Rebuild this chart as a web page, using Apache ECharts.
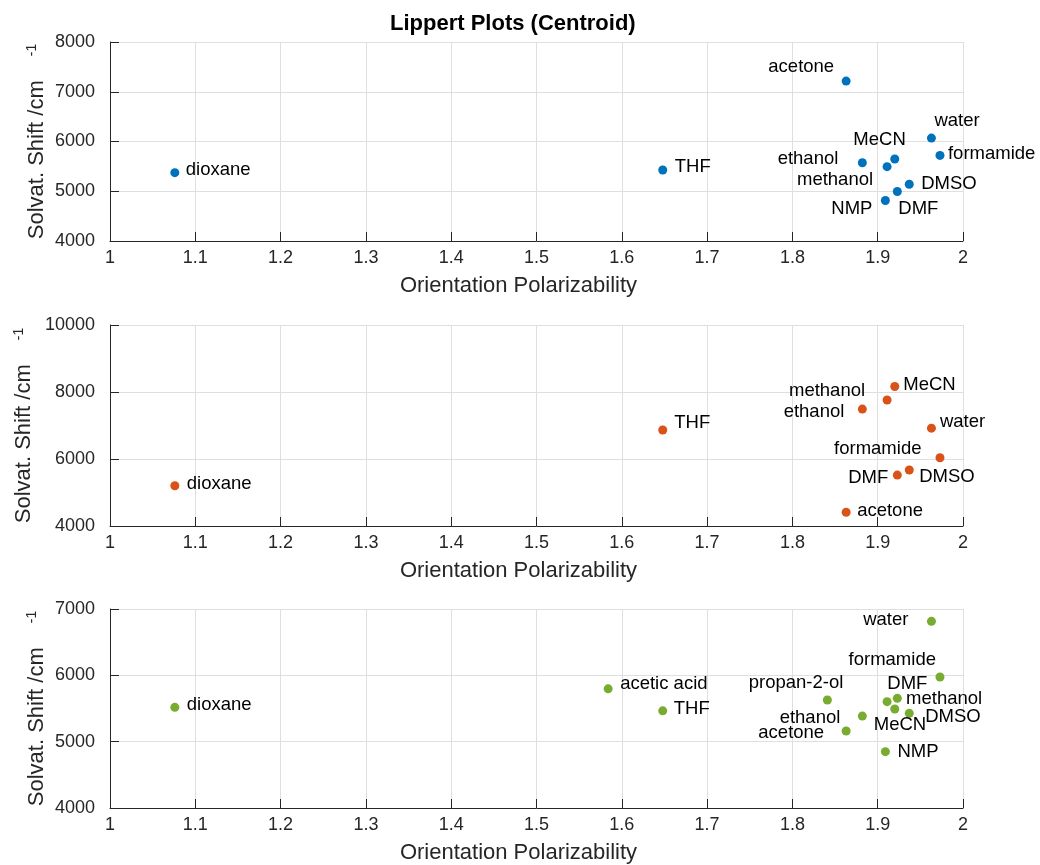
<!DOCTYPE html>
<html>
<head>
<meta charset="utf-8">
<script src="https://cdn.jsdelivr.net/npm/echarts@6/dist/echarts.min.js"></script>
<style>
html,body{margin:0;padding:0;background:#fff;}
#chart{width:1040px;height:865px;}
</style>
</head>
<body>
<div id="chart"></div>
<script>
// ---- Data ----
const topNames = ['dioxane','THF','acetone','ethanol','NMP','methanol','MeCN','DMF','DMSO','water','formamide'];
const topX     = [1.076, 1.648, 1.863, 1.882, 1.909, 1.911, 1.920, 1.923, 1.937, 1.963, 1.973];
const topY     = [5374, 5428, 7214, 5574, 4814, 5494, 5648, 4994, 5140, 6068, 5720];

const midNames = ['dioxane','THF','acetone','ethanol','methanol','MeCN','DMF','DMSO','water','formamide'];
const midX     = [1.076, 1.648, 1.863, 1.882, 1.911, 1.920, 1.923, 1.937, 1.963, 1.973];
const midY     = [5203, 6866, 4410, 7490, 7760, 8165, 5520, 5670, 6921, 6039];

const botNames = ['dioxane','acetic acid','THF','propan-2-ol','acetone','ethanol','NMP','methanol','MeCN','DMF','DMSO','water','formamide'];
const botX     = [1.076, 1.584, 1.648, 1.841, 1.863, 1.882, 1.909, 1.911, 1.920, 1.923, 1.937, 1.963, 1.973];
const botY     = [5517, 5796, 5465, 5628, 5160, 5386, 4849, 5603, 5492, 5653, 5427, 6814, 5975];

const xTickMin = 1, xTickMax = 2, xTickStep = 0.1;
const yTicksTop = [4000, 8000, 1000];
const yTicksMid = [4000, 10000, 2000];
const yTicksBot = [4000, 7000, 1000];

// ---- Label placement (layout only): [align, dx, dy] relative to marker centre ----
const labelTop = {
  'dioxane':['left',11,-2.5], 'THF':['left',12,-3], 'acetone':['right',-12,-14.5],
  'ethanol':['right',-24,-3.5], 'NMP':['right',-13,8.5], 'methanol':['right',-14,13.5],
  'MeCN':['right',11,-19], 'DMF':['left',1,17.5], 'DMSO':['left',12,0],
  'water':['left',3,-17], 'formamide':['left',8,-2]
};
const labelMid = {
  'dioxane':['left',12,-1.5], 'THF':['left',11.5,-7], 'acetone':['left',11,-1.5],
  'ethanol':['right',-18,3], 'methanol':['right',-22,-9], 'MeCN':['left',8.5,-2],
  'DMF':['right',-9,3], 'DMSO':['left',10,6.5], 'water':['left',8.5,-6], 'formamide':['right',-18.5,-9]
};
const labelBot = {
  'dioxane':['left',12,-2], 'acetic acid':['left',12,-4.5], 'THF':['left',11,-2],
  'propan-2-ol':['right',16,-17], 'acetone':['right',-22,1.5], 'ethanol':['right',-22,2],
  'NMP':['left',12,0], 'methanol':['left',19,-2.5], 'MeCN':['left',-21,16],
  'DMF':['left',-10,-14.5], 'DMSO':['left',16,4], 'water':['right',-23,-1], 'formamide':['right',-4,-17]
};
</script>
<script>
const FONT = '"Liberation Sans", Arial, Helvetica, sans-serif';
const AX = '#262626';
const colors = ['#0072BD', '#D95319', '#77AC30'];

function buildData(names, xs, ys, layout) {
  return names.map((n, i) => {
    const p = layout[n] || ['left', 10, 0];
    return {
      name: n,
      value: [xs[i], ys[i]],
      label: {
        show: true, position: 'inside', align: p[0], verticalAlign: 'middle',
        offset: [p[1], p[2]], formatter: n, fontSize: 18.5, fontFamily: FONT,
        color: '#000', textBorderWidth: 0
      }
    };
  });
}

const grids = [
  {left: 110, width: 853, top: 42, height: 199, containLabel: false, outerBoundsMode: 'none'},
  {left: 110, width: 853, top: 325, height: 201, containLabel: false, outerBoundsMode: 'none'},
  {left: 110, width: 853, top: 609, height: 199, containLabel: false, outerBoundsMode: 'none'}
];
const yRanges = [yTicksTop, yTicksMid, yTicksBot];
const yNameGaps = [61, 74, 61];

const xAxes = grids.map((g, i) => ({
  type: 'value', gridIndex: i, min: xTickMin, max: xTickMax, interval: xTickStep,
  name: 'Orientation Polarizability', nameLocation: 'middle', nameGap: 34, nameMoveOverlap: false,
  nameTextStyle: {fontSize: 22, color: AX, fontFamily: FONT, padding: [0, 36, 0, 0]},
  axisLine: {show: true, onZero: false, lineStyle: {color: AX, width: 1}},
  axisTick: {show: true, inside: true, length: 9, lineStyle: {color: AX}},
  axisLabel: {fontSize: 18, color: AX, fontFamily: FONT, margin: 8, formatter: v => String(Math.round(v * 10) / 10)},
  splitLine: {show: true, lineStyle: {color: '#dfdfdf', width: 1}}
}));

const yAxes = grids.map((g, i) => ({
  type: 'value', gridIndex: i, min: yRanges[i][0], max: yRanges[i][1], interval: yRanges[i][2],
  name: '{m|Solvat. Shift /cm}{s|-1}', nameLocation: 'middle', nameGap: yNameGaps[i], nameMoveOverlap: false,
  nameTextStyle: {
    fontFamily: FONT, color: AX,
    rich: {
      m: {fontSize: 22, color: AX, fontFamily: FONT, lineHeight: 24},
      s: {fontSize: 14, color: AX, fontFamily: FONT, verticalAlign: 'top', padding: [0, 0, 0, 24]}
    }
  },
  axisLine: {show: true, onZero: false, lineStyle: {color: AX, width: 1}},
  axisTick: {show: true, inside: true, length: 9, lineStyle: {color: AX}},
  axisLabel: {fontSize: 18, color: AX, fontFamily: FONT, margin: 15, formatter: v => String(v)},
  splitLine: {show: true, lineStyle: {color: '#dfdfdf', width: 1}}
}));

const series = [
  buildData(topNames, topX, topY, labelTop),
  buildData(midNames, midX, midY, labelMid),
  buildData(botNames, botX, botY, labelBot)
].map((d, i) => ({
  type: 'scatter', xAxisIndex: i, yAxisIndex: i, data: d,
  symbol: 'circle', symbolSize: 9,
  itemStyle: {color: colors[i], opacity: 1},
  emphasis: {disabled: true}
}));

const chart = echarts.init(document.getElementById('chart'), null, {renderer: 'canvas'});
chart.setOption({
  animation: false,
  backgroundColor: '#fff',
  title: {
    text: 'Lippert Plots (Centroid)', left: 390, top: 13, padding: 0,
    textStyle: {fontSize: 22, fontWeight: 'bold', color: '#000', fontFamily: FONT}
  },
  grid: grids,
  xAxis: xAxes,
  yAxis: yAxes,
  series: series
});
</script>
</body>
</html>
